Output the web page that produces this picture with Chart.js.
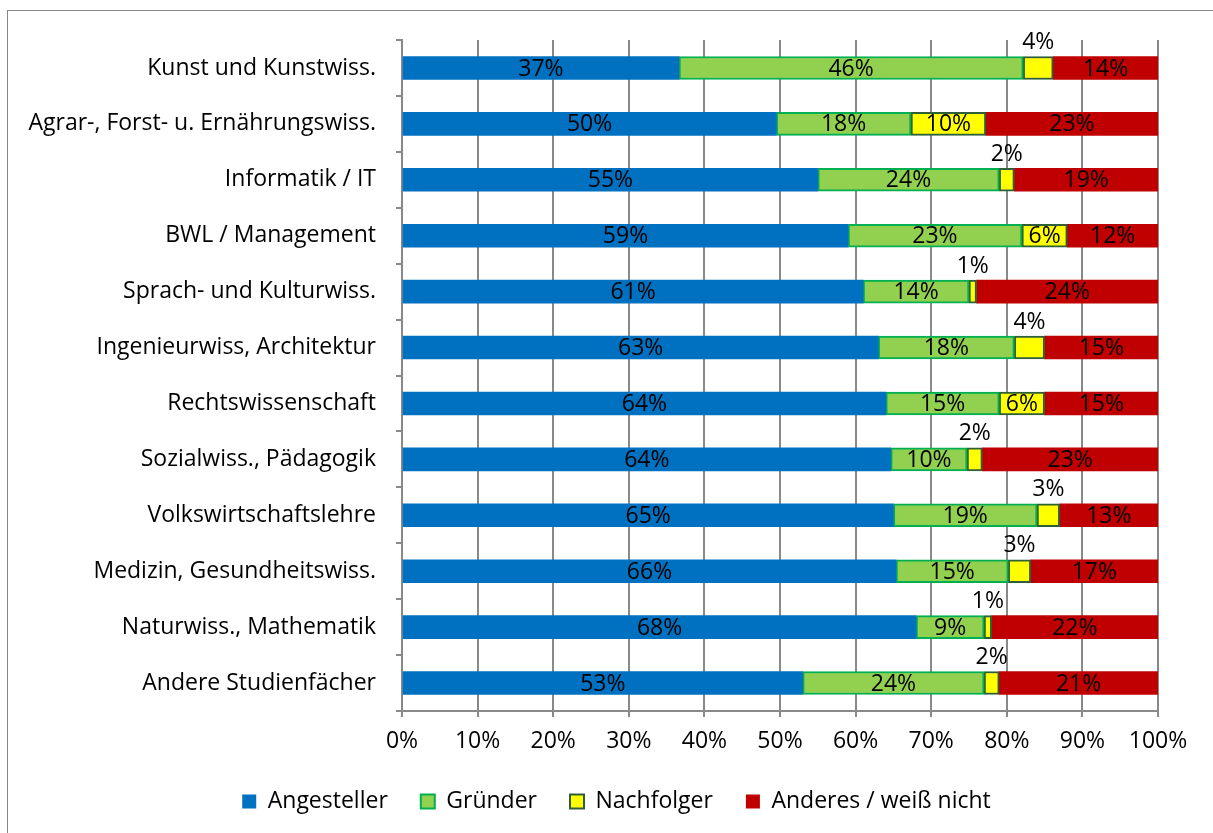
<!DOCTYPE html>
<html lang="de">
<head>
<meta charset="UTF-8">
<title>Berufsperspektive nach Studienfach</title>
<script src="https://cdn.jsdelivr.net/npm/chart.js"></script>
<style>
    body {
        margin: 0;
        background: #fff;
        font-family: 'Open Sans', sans-serif;
        overflow: hidden;
    }
    .frame {
        position: absolute;
        left: 7px;
        top: 10px;
        width: 1300px;
        height: 900px;
        border: 1px solid #868686;
    }
    .wrap {
        position: absolute;
        left: 0;
        top: 0;
        width: 1213px;
        height: 833px;
    }
</style>
</head>
<body>
<div class="frame"></div>
<div class="wrap"><canvas id="chart"></canvas></div>

<script>
    const categories = [
        'Kunst und Kunstwiss.',
        'Agrar-, Forst- u. Ernährungswiss.',
        'Informatik / IT',
        'BWL / Management',
        'Sprach- und Kulturwiss.',
        'Ingenieurwiss, Architektur',
        'Rechtswissenschaft',
        'Sozialwiss., Pädagogik',
        'Volkswirtschaftslehre',
        'Medizin, Gesundheitswiss.',
        'Naturwiss., Mathematik',
        'Andere Studienfächer'
    ];
    const seriesNames = ['Angesteller', 'Gründer', 'Nachfolger', 'Anderes / weiß nicht'];

    // percentages as printed in the bars
    const angesteller = [37, 50, 55, 59, 61, 63, 64, 64, 65, 66, 68, 53];
    const gruender    = [46, 18, 24, 23, 14, 18, 15, 10, 19, 15,  9, 24];
    const nachfolger  = [ 4, 10,  2,  6,  1,  4,  6,  2,  3,  3,  1,  2];
    const anderes     = [14, 23, 19, 12, 24, 15, 15, 23, 13, 17, 22, 21];

    const xTicks = [0, 10, 20, 30, 40, 50, 60, 70, 80, 90, 100];

    const raw = [angesteller, gruender, nachfolger, anderes];
    const sums = categories.map((c, i) => raw.reduce((s, arr) => s + arr[i], 0));
    // 100% stacked: scale each row to its total
    const norm = arr => arr.map((v, i) => v / sums[i] * 100);

    const styles = [
        { bg: '#0070C0', border: '#0070C0', bw: 0 },
        { bg: '#92D050', border: '#00B050', bw: 2 },
        { bg: '#FFFF00', border: '#2F5F38', bw: 2 },
        { bg: '#C00000', border: '#C00000', bw: 0 }
    ];

    const FONT = { family: "'Open Sans', sans-serif", size: 23 };
    const GRID = '#898989';

    const labelPlugin = {
        id: 'segLabels',
        afterDatasetsDraw(chart) {
            const ctx = chart.ctx;
            ctx.save();
            ctx.font = FONT.size + 'px ' + FONT.family;
            ctx.fillStyle = '#000';
            ctx.textAlign = 'center';
            ctx.textBaseline = 'middle';
            chart.data.datasets.forEach((ds, di) => {
                const meta = chart.getDatasetMeta(di);
                meta.data.forEach((bar, i) => {
                    const v = raw[di][i];
                    const cx = (bar.x + bar.base) / 2;
                    let cy = bar.y + 1;
                    if (v < 5) cy = bar.y - bar.height / 2 - 14;
                    ctx.fillText(v + '%', cx, cy);
                });
            });
            ctx.restore();
        }
    };

    new Chart(document.getElementById('chart'), {
        type: 'bar',
        data: {
            labels: categories,
            datasets: raw.map((arr, k) => ({
                label: seriesNames[k],
                data: norm(arr),
                backgroundColor: styles[k].bg,
                borderColor: styles[k].border,
                borderWidth: styles[k].bw,
                borderSkipped: false,
                barThickness: 23
            }))
        },
        options: {
            indexAxis: 'y',
            responsive: true,
            maintainAspectRatio: false,
            animation: false,
            layout: { padding: { top: 40, right: 0, bottom: 10, left: 20 } },
            scales: {
                x: {
                    stacked: true,
                    min: 0,
                    max: 100,
                    afterBuildTicks(scale) {
                        scale.ticks = xTicks.map(v => ({ value: v }));
                    },
                    afterFit(scale) { scale.height = 46; },
                    ticks: {
                        callback: v => v + '%',
                        color: '#000',
                        font: FONT,
                        padding: 11
                    },
                    grid: { color: GRID, lineWidth: 2, tickLength: 6 },
                    border: { color: GRID, width: 2 }
                },
                y: {
                    stacked: true,
                    afterFit(scale) { scale.width = 382; },
                    ticks: { color: '#000', font: FONT, padding: 20 },
                    grid: { color: GRID, lineWidth: 2, drawOnChartArea: false, tickLength: 6, offset: true },
                    border: { color: GRID, width: 2 }
                },
                // empty spacer on the right so the plot ends at 100% before the frame edge
                yRight: {
                    type: 'linear',
                    position: 'right',
                    afterFit(scale) { scale.width = 55; },
                    ticks: { display: false },
                    grid: { display: false },
                    border: { display: false }
                }
            },
            plugins: {
                legend: {
                    position: 'bottom',
                    labels: {
                        color: '#000',
                        font: FONT,
                        boxWidth: 14,
                        boxHeight: 14,
                        padding: 33
                    }
                },
                tooltip: { enabled: false }
            }
        },
        plugins: [labelPlugin]
    });
</script>
</body>
</html>
